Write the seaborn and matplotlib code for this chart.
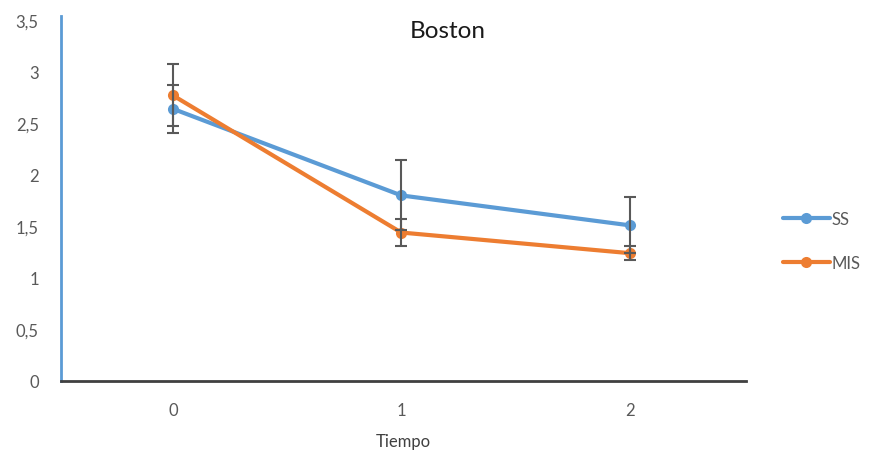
import matplotlib
matplotlib.use("Agg")
import matplotlib.pyplot as plt
import pandas as pd
import seaborn as sns

sns.set_theme(style="white")
plt.rcParams["font.family"] = ["Lato", "DejaVu Sans"]

tiempo = [0, 1, 2]
ss_mean = [2.64, 1.80, 1.51]
ss_err = [0.23, 0.34, 0.27]
mis_mean = [2.77, 1.44, 1.24]
mis_err = [0.30, 0.13, 0.07]
y_ticks = [0, 0.5, 1, 1.5, 2, 2.5, 3, 3.5]
y_tick_labels = ["0", "0,5", "1", "1,5", "2", "2,5", "3", "3,5"]

PALETTE = {"SS": "#5B9BD5", "MIS": "#ED7D31"}
GRAY = "#595959"

df = pd.concat([
    pd.DataFrame({"Tiempo": tiempo, "valor": ss_mean, "err": ss_err, "grupo": "SS"}),
    pd.DataFrame({"Tiempo": tiempo, "valor": mis_mean, "err": mis_err, "grupo": "MIS"}),
])

fig = plt.figure(figsize=(8.73, 4.56), dpi=100)
ax = fig.add_axes([61 / 873, 1 - 382 / 456, (746 - 61) / 873, (382 - 17) / 456])

sns.lineplot(
    data=df, x="Tiempo", y="valor", hue="grupo", hue_order=["SS", "MIS"],
    palette=PALETTE, marker="o", markersize=8, markeredgewidth=0,
    linewidth=3, ax=ax, legend=True,
)

# error bars on top of the lines
for name, sub in df.groupby("grupo"):
    ax.errorbar(sub["Tiempo"], sub["valor"], yerr=sub["err"], fmt="none",
                ecolor=GRAY, elinewidth=1.5, capsize=4, capthick=1.5, zorder=5)

ax.set_xlim(-0.49, 2.51)
ax.set_ylim(0, 3.54)
ax.set_xticks(tiempo)
ax.set_xticklabels([str(t) for t in tiempo])
ax.set_yticks(y_ticks)
ax.set_yticklabels(y_tick_labels)
ax.tick_params(axis="both", length=0, labelsize=12, labelcolor=GRAY)
ax.tick_params(axis="y", pad=16)
ax.tick_params(axis="x", pad=15)
ax.set_xlabel("Tiempo", fontsize=12, color="#404040", labelpad=11)
ax.set_ylabel("")

for side in ["top", "right"]:
    ax.spines[side].set_visible(False)
ax.spines["left"].set_color("#5B9BD5")
ax.spines["left"].set_linewidth(2)
ax.spines["bottom"].set_color("#404040")
ax.spines["bottom"].set_linewidth(2)

fig.text(448 / 873, 1 - 31 / 456, "Boston", ha="center", va="center",
         fontsize=17.5, color="#1a1a1a")

handles, labels = ax.get_legend_handles_labels()
ax.legend(handles, labels, loc="center left", bbox_to_anchor=(783 / 873, 1 - 242 / 456),
          bbox_transform=fig.transFigure, frameon=False, fontsize=12,
          labelcolor=GRAY, handlelength=2.8, handletextpad=0.1,
          labelspacing=1.7, borderpad=0, borderaxespad=0)

fig.savefig("out.png", dpi=100)
